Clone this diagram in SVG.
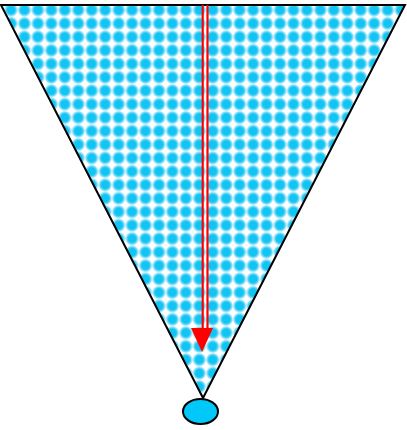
<svg xmlns="http://www.w3.org/2000/svg" width="407" height="430" viewBox="0 0 407 430">
<style>
.outline{stroke:#000;stroke-width:2;fill:url(#dots)}
.red{stroke:#ff0000;stroke-width:2.2;fill:none}
</style>
<defs>
<radialGradient id="blob">
<stop offset="0" stop-color="#10c4f4"/>
<stop offset="0.55" stop-color="#10c4f4"/>
<stop offset="0.85" stop-color="#9fe3f8"/>
<stop offset="1" stop-color="#ffffff"/>
</radialGradient>
<pattern id="dots" patternUnits="userSpaceOnUse" x="4.3" y="3.3" width="13.45" height="13.45">
<rect width="13.45" height="13.45" fill="#ffffff"/>
<circle cx="6.72" cy="6.72" r="7" fill="url(#blob)"/>
</pattern>
</defs>
<g id="cone">
<path class="outline" d="M1,5 L405,5 L203,398 Z"/>
</g>
<g id="point">
<ellipse cx="200.5" cy="411.5" rx="17.5" ry="12.5" fill="#00c8f8" stroke="#000" stroke-width="2"/>
</g>
<g id="connectors">
<line class="red" x1="202.7" y1="5" x2="202.7" y2="330"/>
<line class="red" x1="207.5" y1="5" x2="207.5" y2="330"/>
<path d="M191,328 L213,328 L202,352 Z" fill="#ff0000"/>
</g>
</svg>
